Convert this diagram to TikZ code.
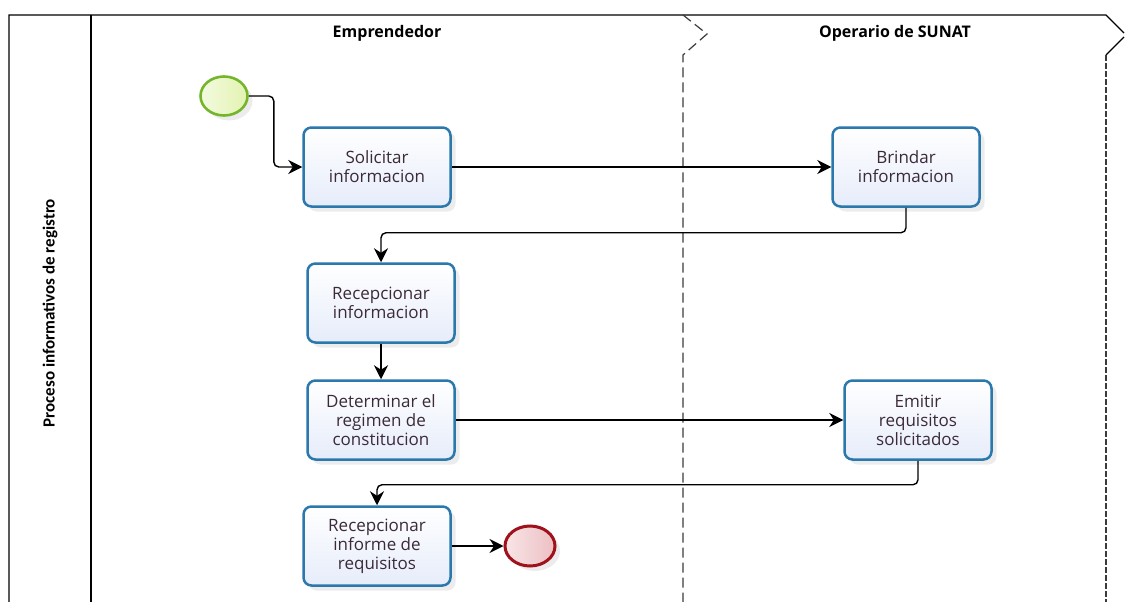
\documentclass[tikz,border=0pt]{standalone}
\usepackage{fontspec}
\setmainfont{Open Sans}
\newfontfamily\poolfont{Carlito}
\usepackage{tikz}
\usetikzlibrary{positioning,arrows.meta,shadows,shapes.geometric}
\usepackage{xcolor}
\definecolor{taskline}{HTML}{2A78AC}
\definecolor{taskfill}{HTML}{E6ECFA}
\definecolor{startline}{HTML}{74B52C}
\definecolor{startfill}{HTML}{E2F3B0}
\definecolor{endline}{HTML}{A0121B}
\definecolor{endfill}{HTML}{EDBFC3}
\definecolor{ink}{HTML}{3B2A3A}
\definecolor{lane}{HTML}{3A3A3A}

\begin{document}
\begin{tikzpicture}[x=1pt, y=-1pt,
    task/.style={draw=taskline, line width=2.5pt, rounded corners=8pt,
      top color=white, bottom color=taskfill, minimum width=147pt,
      minimum height=79pt, align=center, text=ink,
      font=\fontsize{17}{19}\selectfont,
      drop shadow={opacity=0.15, shadow xshift=5pt, shadow yshift=-5pt}},
    startev/.style={ellipse, draw=startline, line width=2.6pt,
      left color=startfill!40, right color=startfill,
      minimum width=47pt, minimum height=39pt,
      drop shadow={opacity=0.15, shadow xshift=5pt, shadow yshift=-5pt}},
    endev/.style={ellipse, draw=endline, line width=3pt,
      left color=endfill!40, right color=endfill,
      minimum width=50pt, minimum height=40pt,
      drop shadow={opacity=0.15, shadow xshift=5pt, shadow yshift=-5pt}},
    lanetitle/.style={font=\fontsize{16}{18}\selectfont\bfseries, text=black},
    flow/.style={draw=black, line width=1.4pt, rounded corners=5pt,
      -{Stealth[length=14pt, width=14pt]}}]
  \useasboundingbox (0,0) rectangle (1125,602);

  % pool and lanes
  \draw[line width=1.2pt] (9,602) -- (9,15) -- (1106,15) -- (1124,33);
  \draw[line width=1.2pt] (91,15) -- (91,602);
  \draw[line width=1.2pt] (1124,37) -- (1106,55);
  \draw[lane, line width=1.2pt, dash pattern=on 6pt off 2pt] (1106,55) -- (1106,602);
  \draw[lane, line width=1.2pt, dash pattern=on 10pt off 5pt]
    (683,15) -- (707,34) -- (683,55) -- (683,602);

  \node[rotate=90, font=\poolfont\fontsize{17}{18}\selectfont\bfseries] (pool) at (50,313) {Proceso informativos de registro};
  \node[lanetitle] (emp) at (387,33) {Emprendedor};
  \node[lanetitle] (sunat) at (895,33) {Operario de SUNAT};

  % events and tasks
  \node[startev] (start) at (224,96) {};
  \node[task] (solicitar) at (377,167) {Solicitar\\informacion};
  \node[task] (brindar) at (906,167) {Brindar\\informacion};
  \node[task] (recepinfo) at (381,303) {Recepcionar\\informacion};
  \node[task] (determinar) at (381,420) {Determinar el\\regimen de\\constitucion};
  \node[task] (emitir) at (918,420) {Emitir\\requisitos\\solicitados};
  \node[task] (recepreq) at (377,546) {Recepcionar\\informe de\\requisitos};
  \node[endev] (finish) at (530,546) {};

  % flows
  \draw[flow] (start.east) -- ++(25,0) |- (solicitar.west);
  \draw[flow] (solicitar.east) -- (brindar.west);
  \draw[flow] (brindar.south) -- ++(0,25) -| (recepinfo.north);
  \draw[flow] (recepinfo.south) -- (determinar.north);
  \draw[flow] (determinar.east) -- (emitir.west);
  \draw[flow] (emitir.south) -- ++(0,24) -| (recepreq.north);
  \draw[flow] (recepreq.east) -- (finish.west);
\end{tikzpicture}
\end{document}
